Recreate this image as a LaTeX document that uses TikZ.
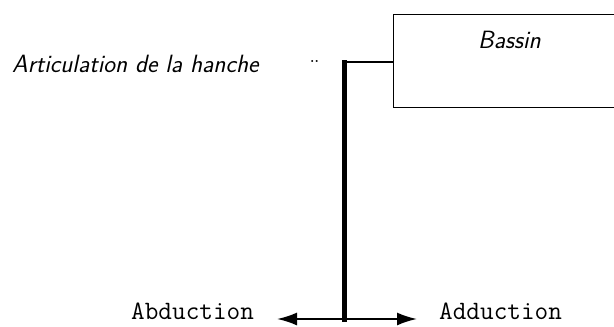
\documentclass[tikz,border=0pt]{standalone}
\usepackage{fontspec}
\usetikzlibrary{calc}
\usetikzlibrary{arrows.meta}
\tikzset{
  link/.style = {color=#1, line width=5pt},
  stub/.style = {color=#1, line width=2.8pt},
  frame/.style = {draw=#1, line width=1.3pt, anchor=north west, inner sep=0pt},
  move/.style = {color=#1, line width=2pt, -{Latex[length=20pt,width=13pt]}},
  partLabel/.style = {font=\fontsize{25}{30}\selectfont\sffamily\itshape, inner sep=0pt},
  motionLabel/.style = {font=\fontsize{26.5}{30}\selectfont\ttfamily, inner sep=0pt, anchor=base west}
}

\begin{document}
\begin{tikzpicture}[x=1pt, y=-1pt]

    \useasboundingbox (0,0) rectangle (614,327);
    \clip (0,0) rectangle (614,327);

    % Coordinates
    \coordinate (hip) at (344,62);
    \coordinate (foot) at (344,319);
    \coordinate (abdTip) at (277,319);
    \coordinate (addTip) at (417,319);

    % Pelvis
    \node[frame={black}, minimum width=250pt, minimum height=93pt] (bassin) at (393,14) {};
    \node[partLabel, anchor=base] (bassinText) at (509.5,48) {Bassin};

    % Body
    \draw[stub={black}] (bassin.west |- hip) -- (hip);
    \draw[link={black}, line cap=rect] (hip) -- (foot);

    % Motions
    \draw[move={black}] (foot) -- (abdTip);
    \draw[move={black}] (foot) -- (addTip);

    % Labels
    \node[partLabel, anchor=base west] (hipText) at (12,72) {Articulation de la hanche};
    \node[inner sep=0pt, font=\fontsize{14}{14}\selectfont\bfseries, anchor=base] (dots) at (314.5,62) {..};
    \node[motionLabel] (abdText) at (131,319) {Abduction};
    \node[motionLabel] (addText) at (439,319) {Adduction};

\end{tikzpicture}
\end{document}
